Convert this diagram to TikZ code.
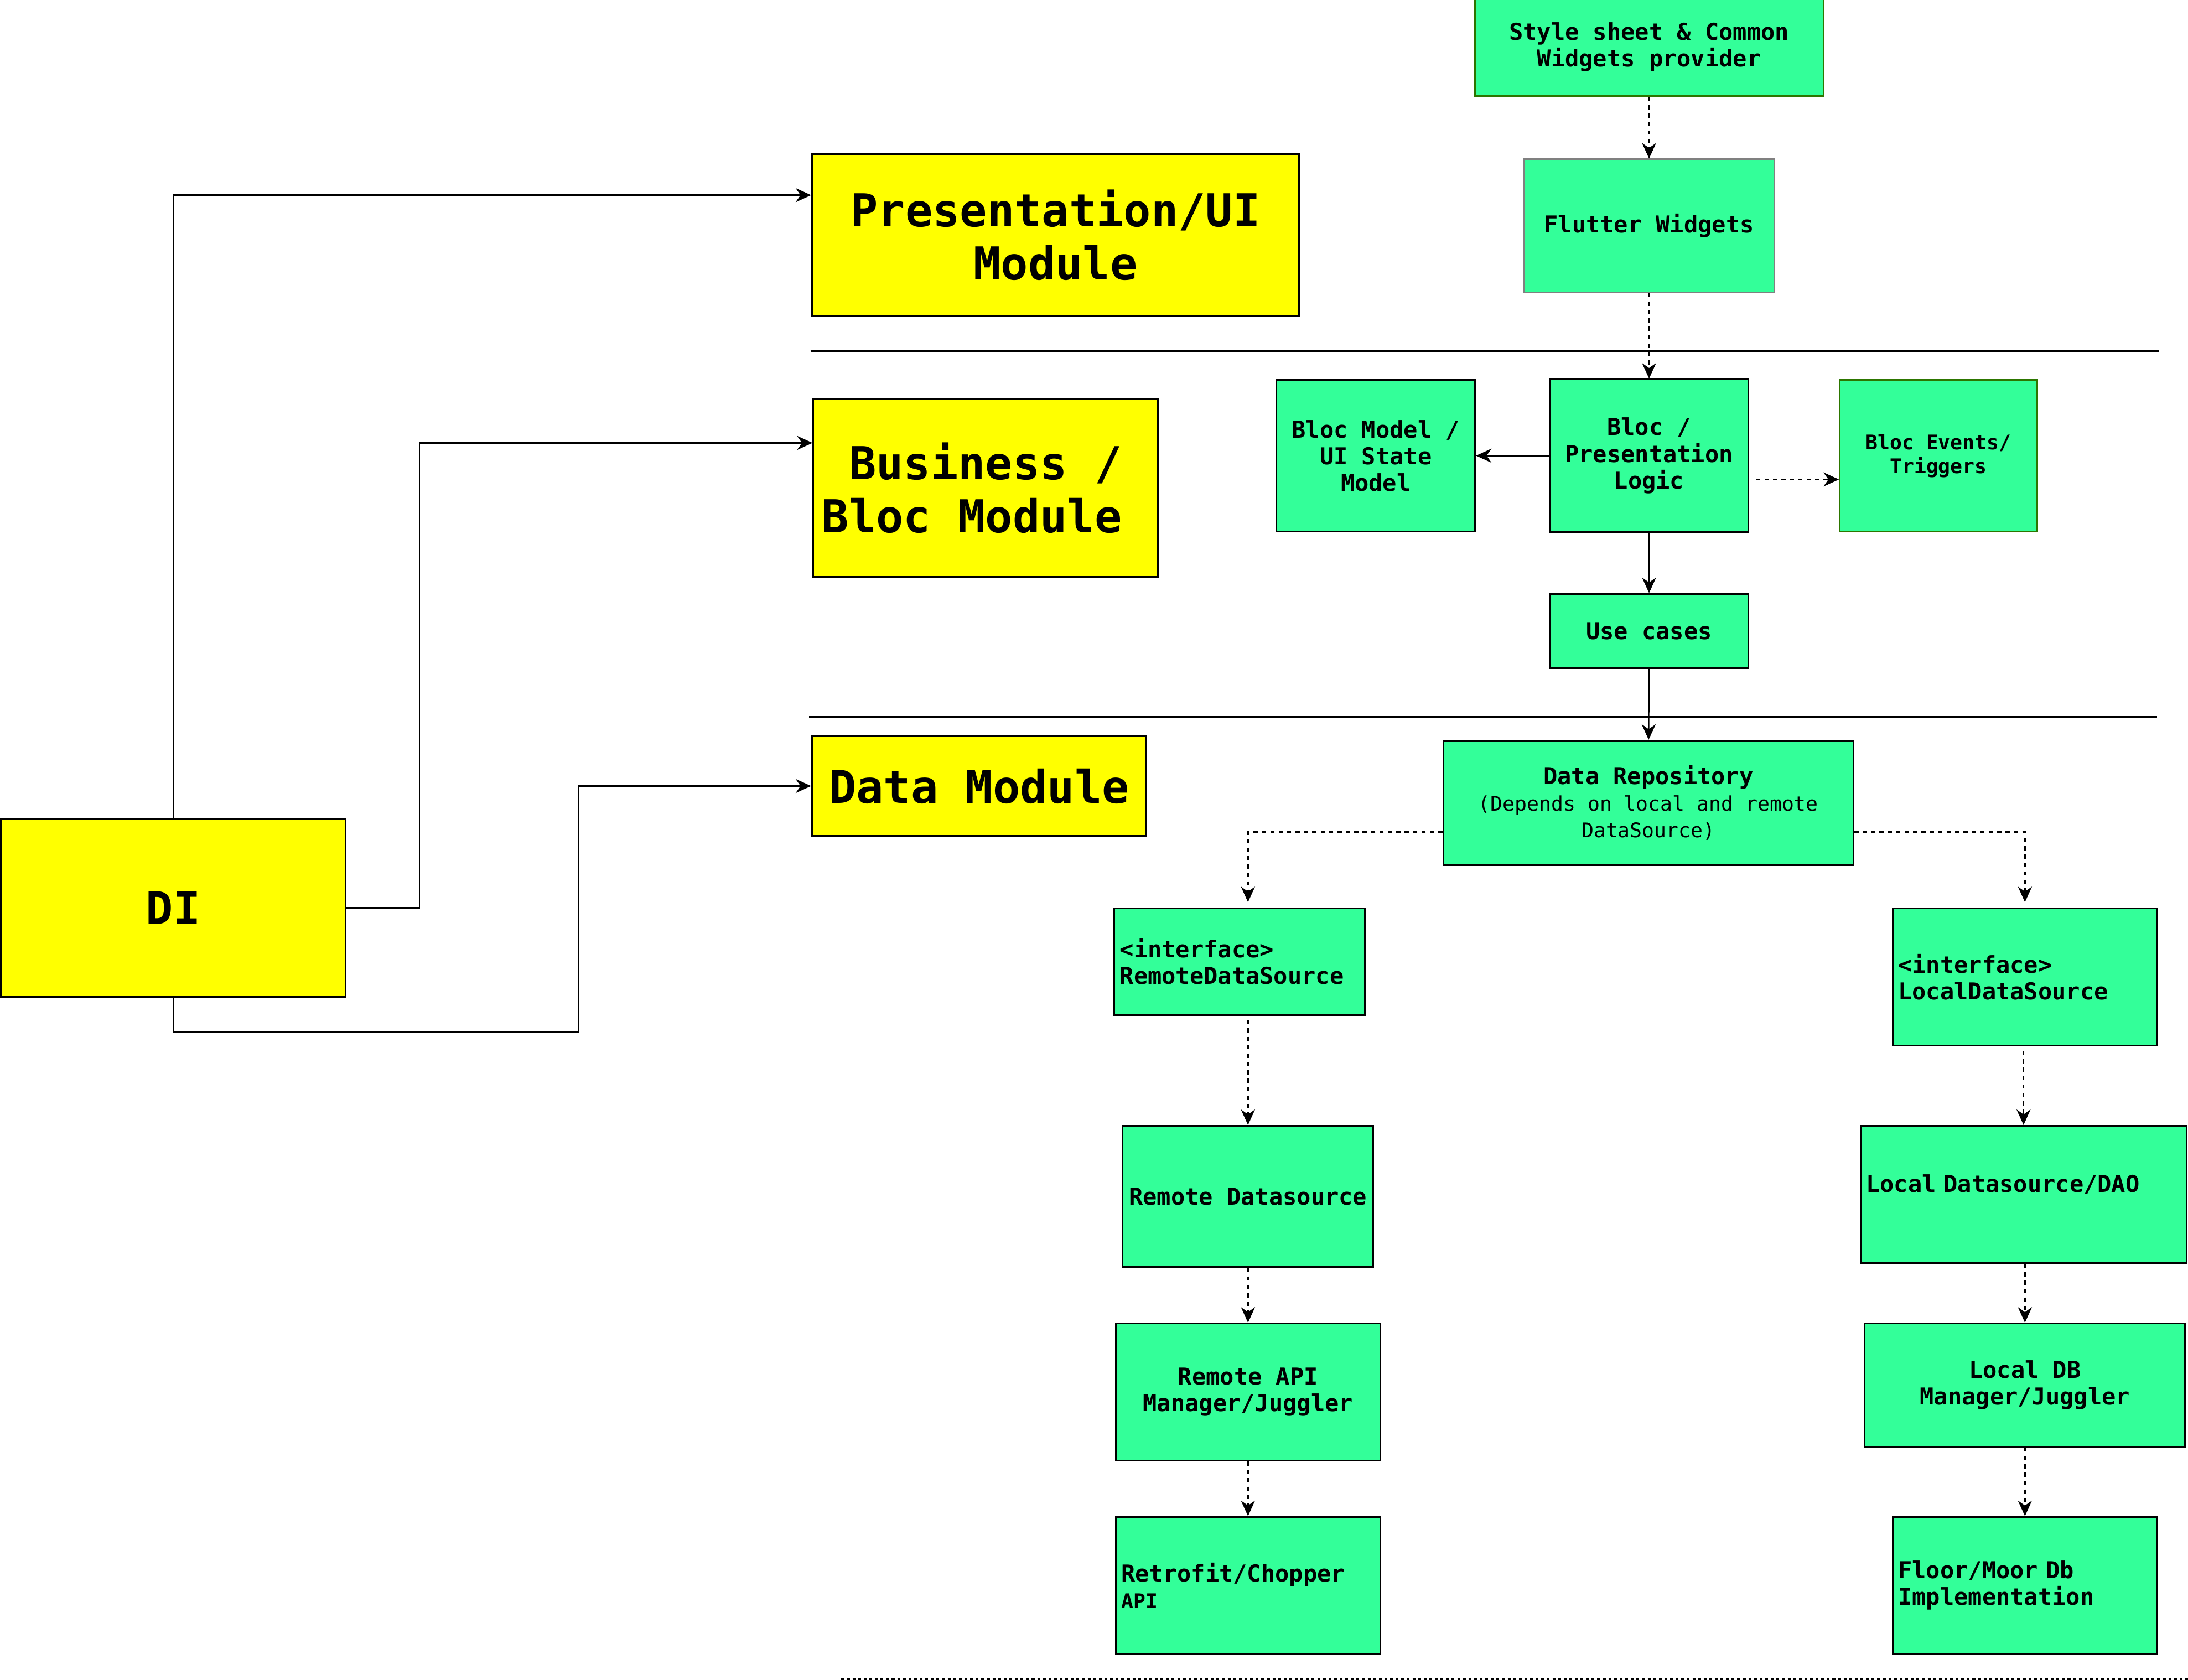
\documentclass[tikz,border=0pt]{standalone}
\usepackage{fontspec}
\setmonofont{DejaVu Sans Mono}
\usetikzlibrary{positioning, arrows.meta}
\definecolor{layergreen}{RGB}{51,255,153}
\definecolor{moduleyellow}{RGB}{255,255,0}
\definecolor{edgegreen}{RGB}{45,118,0}
\definecolor{edgegray}{RGB}{128,128,128}
\newcommand{\bigtxt}{\fontsize{32.4}{38}\selectfont}
\newcommand{\midtxt}{\fontsize{16.6}{19}\selectfont}
\newcommand{\smalltxt}{\fontsize{14.4}{17}\selectfont}

\begin{document}
\begin{tikzpicture}[x=1pt, y=-1pt,
                >={Stealth[inset=3.5pt,length=11pt,width=10pt]},
                module/.style={rectangle, draw=black, line width=1.2pt, fill=moduleyellow, font=\ttfamily\bfseries\bigtxt, align=center, inner sep=4pt},
                layer/.style={rectangle, draw=black, line width=1.2pt, fill=layergreen, font=\ttfamily\bfseries\midtxt, align=center, inner sep=4pt},
                leftlayer/.style={layer, align=left},
                conn/.style={->, line width=1pt},
                dep/.style={->, line width=1pt, dash pattern=on 3pt off 3pt},
                layerline/.style={line width=1.2pt}
                ]
                \useasboundingbox (0,0) rectangle (1563,1200);

                % Modules
                \node[module, minimum width=348pt, minimum height=116pt] (pres) at (754,168) {Presentation/UI\\Module};
                \node[module, minimum width=246pt, minimum height=127pt] (busi) at (704,348.5) {Business /\\Bloc Module\phantom{x}};
                \node[module, minimum width=239pt, minimum height=71pt] (data) at (699.5,561.5) {Data Module};
                \node[module, minimum width=246.4pt, minimum height=127pt] (di) at (123.8,648.5) {DI};

                % Presentation and bloc layer
                \node[layer, minimum width=142pt, minimum height=109pt] (blocpres) at (1178,325.5) {Bloc /\\Presentation\\Logic};
                \node[layer, minimum width=142pt, minimum height=108pt] (blocmodel) [left=52pt of blocpres] {Bloc Model /\\UI State\\Model};
                \node[layer, draw=edgegreen, font=\ttfamily\bfseries\smalltxt, minimum width=141pt, minimum height=108pt] (events) [right=64pt of blocpres] {Bloc Events/\\Triggers};
                \node[layer, minimum width=142pt, minimum height=53pt] (usecases) [below=43pt of blocpres] {Use cases};
                \node[layer, draw=edgegray, minimum width=179pt, minimum height=95pt] (flutter) [above=61pt of blocpres] {Flutter Widgets};
                \node[layer, draw=edgegreen, minimum width=249pt, minimum height=70.4pt] (style) [above=44pt of flutter] {Style sheet \& Common\\Widgets provider};

                % Data layer
                \node[layer, minimum width=293pt, minimum height=89pt] (repo) at (1177.5,573.5) {Data Repository\\{\smalltxt\mdseries(Depends on local and remote}\\{\smalltxt\mdseries DataSource)}};
                \node[leftlayer, text width=171pt, minimum height=76pt] (rds) at (885.5,687) {<interface>\\RemoteDataSource};
                \node[leftlayer, text width=181pt, minimum height=98pt] (lds) at (1446.5,698) {<interface>\\LocalDataSource};
                \node[layer, minimum width=179pt, minimum height=101pt] (remote) [below=78pt of rds, xshift=6pt] {Remote Datasource};
                \node[layer, minimum width=189pt, minimum height=98pt] (remoteapi) [below=39pt of remote] {Remote API\\Manager/Juggler};
                \node[leftlayer, text width=181pt, minimum height=98pt] (retrofit) [below=39pt of remoteapi] {Retrofit/Chopper\\{\smalltxt API}};
                \node[leftlayer, text width=225pt, minimum height=98pt] (localdao) [below=56pt of lds, xshift=-1pt] {\raisebox{7pt}[\height][\depth]{Local Datasource/DAO}};
                \node[layer, minimum width=229pt, minimum height=88pt] (localdb) [below=42pt of localdao, xshift=1pt] {Local DB\\Manager/Juggler};
                \node[leftlayer, text width=181pt, minimum height=98pt] (floor) [below=49pt of localdb] {Floor/Moor Db\\Implementation};

                % Layer borders
                \draw[layerline] (579,251) -- (1542,251);
                \draw[layerline] (578,512) -- (1541,512);
                \draw[line width=1.2pt, dash pattern=on 2pt off 2pt] (601,1199.4) -- (1563,1199.4);

                % Paths
                \coordinate (dibend) at (413,737);
                \draw[conn] (di.north) |- ([yshift=-30pt]pres.north west);
                \draw[conn] (di.east) -- ++(52,0) |- ([yshift=-32pt]busi.north west);
                \draw[conn] (di.south) |- (dibend) |- (data.west);

                \draw[dep] (style) -- (flutter);
                \draw[dep] (flutter) -- (blocpres);
                \draw[conn] (blocpres) -- (blocmodel);
                \draw[dep, shorten <=5pt] ([yshift=-17pt]blocpres.east) -- ([yshift=-17pt]events.west);
                \draw[conn] (blocpres) -- (usecases);
                \draw[conn] (usecases) -- (repo);

                \draw[dep, shorten >=4pt] ([yshift=-66pt]repo.north west) -| (rds.north -| remote.north);
                \draw[dep, shorten >=4pt] ([yshift=-66pt]repo.north east) -| (lds.north);
                \draw[dep, shorten <=3pt] (rds.south -| remote.north) -- (remote.north);
                \draw[dep] (remote) -- (remoteapi);
                \draw[dep] (remoteapi) -- (retrofit);
                \draw[dep, shorten <=3pt] (lds.south -| localdao.north) -- (localdao.north);
                \draw[dep] (localdao.south -| localdb.north) -- (localdb.north);
                \draw[dep] (localdb) -- (floor);
\end{tikzpicture}
\end{document}
